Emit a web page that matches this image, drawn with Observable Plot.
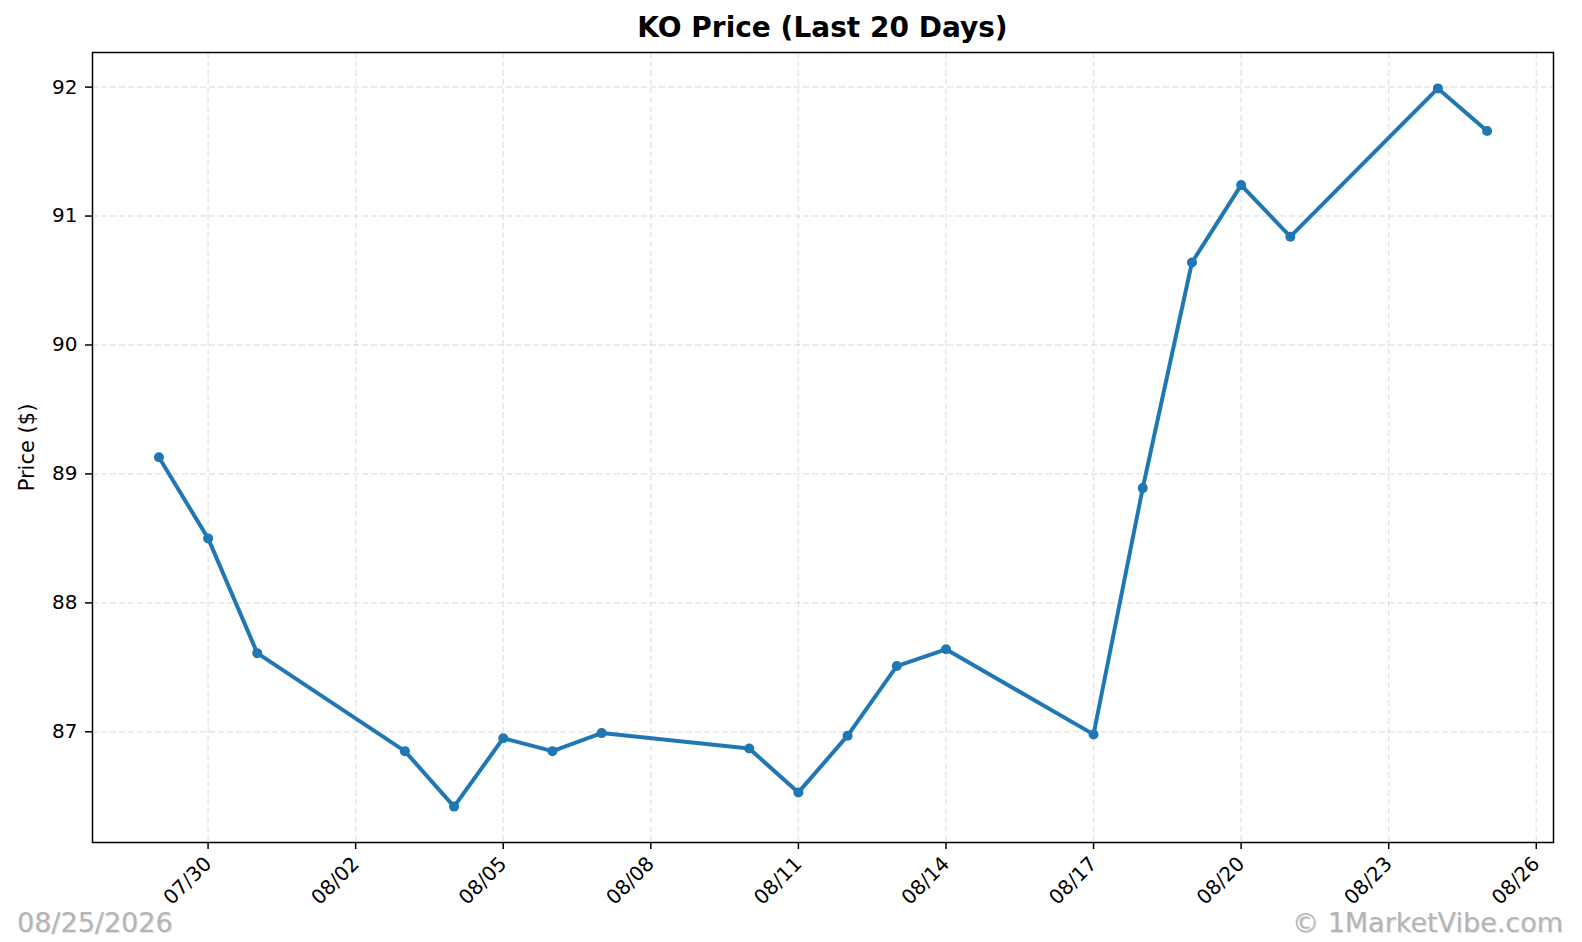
<!DOCTYPE html>
<html>
<head>
<meta charset="utf-8">
<script src="https://cdn.jsdelivr.net/npm/d3@7"></script>
<script src="https://cdn.jsdelivr.net/npm/@observablehq/plot@0.6"></script>
<style>
  html, body { margin: 0; padding: 0; background: #fff; }
  #wrap { position: relative; width: 1582px; height: 942px; font-family: "DejaVu Sans", sans-serif; overflow: hidden; }
  #title { position: absolute; top: 11px; left: 92px; width: 1461px; text-align: center; font-weight: bold; font-size: 28px; line-height: normal; color: #000; white-space: nowrap; }
  #chart { position: absolute; top: 0; left: 0; }
  .wm { position: absolute; font-size: 27px; line-height: normal; color: #b4b4b4; text-shadow: 1px 1px 0 #e2e2e2; white-space: nowrap; }
  #wmL { left: 17px; top: 907px; }
  #wmR { right: 19px; top: 907px; }
</style>
</head>
<body>
<div id="wrap">
  <div id="chart"></div>
  <div id="title">KO Price (Last 20 Days)</div>
  <div class="wm" id="wmL">08/25/2026</div>
  <div class="wm" id="wmR">© 1MarketVibe.com</div>
</div>
<script>
const dates = ["2026-07-29","2026-07-30","2026-07-31","2026-08-03","2026-08-04","2026-08-05","2026-08-06","2026-08-07","2026-08-10","2026-08-11","2026-08-12","2026-08-13","2026-08-14","2026-08-17","2026-08-18","2026-08-19","2026-08-20","2026-08-21","2026-08-24","2026-08-25"];
const prices = [89.13,88.50,87.61,86.85,86.42,86.95,86.85,86.99,86.87,86.53,86.97,87.51,87.64,86.98,88.89,90.64,91.24,90.84,91.99,91.66];
const yTicks = [87,88,89,90,91,92];
const xTickDates = ["2026-07-30","2026-08-02","2026-08-05","2026-08-08","2026-08-11","2026-08-14","2026-08-17","2026-08-20","2026-08-23","2026-08-26"];

const data = dates.map((d, i) => ({date: new Date(d + "T00:00:00Z"), price: prices[i]}));
const xt = xTickDates.map(d => new Date(d + "T00:00:00Z"));

const t0 = data[0].date.getTime(), t1 = data[data.length-1].date.getTime();
const padT = (t1 - t0) * 0.05;
const pMin = d3.min(prices), pMax = d3.max(prices);
const padP = (pMax - pMin) * 0.05;
const fmt = d3.utcFormat("%m/%d");

const chart = Plot.plot({
  width: 1582,
  height: 942,
  marginTop: 52,
  marginBottom: 100,
  marginLeft: 92,
  marginRight: 29,
  style: {fontFamily: "DejaVu Sans, sans-serif", fontSize: "20px", color: "#000", background: "#fff"},
  x: {type: "utc", domain: [new Date(t0 - padT), new Date(t1 + padT)]},
  y: {domain: [pMin - padP, pMax + padP]},
  marks: [
    Plot.gridX(xt, {stroke: "#b0b0b0", strokeOpacity: 0.3, strokeWidth: 1.5, strokeDasharray: "6,3"}),
    Plot.gridY(yTicks, {stroke: "#b0b0b0", strokeOpacity: 0.3, strokeWidth: 1.5, strokeDasharray: "6,3"}),
    Plot.lineY(data, {x: "date", y: "price", stroke: "#1f77b4", strokeWidth: 4}),
    Plot.dot(data, {x: "date", y: "price", fill: "#1f77b4", r: 5}),
    Plot.axisY(yTicks, {tickSize: 7, tickPadding: 8, strokeWidth: 1.5, fontSize: 20, tickFormat: d3.format("d"), label: null}),
    Plot.axisX(xt, {tickSize: 7, tickPadding: 11, strokeWidth: 1.5, fontSize: 20, tickRotate: -45, tickFormat: fmt, label: null}),
    Plot.text(["Price ($)"], {frameAnchor: "left", dx: -65, rotate: -90, fontSize: 21, textAnchor: "middle"}),
    Plot.frame({stroke: "#000", strokeWidth: 1.5})
  ]
});
document.getElementById("chart").appendChild(chart);
</script>
</body>
</html>
